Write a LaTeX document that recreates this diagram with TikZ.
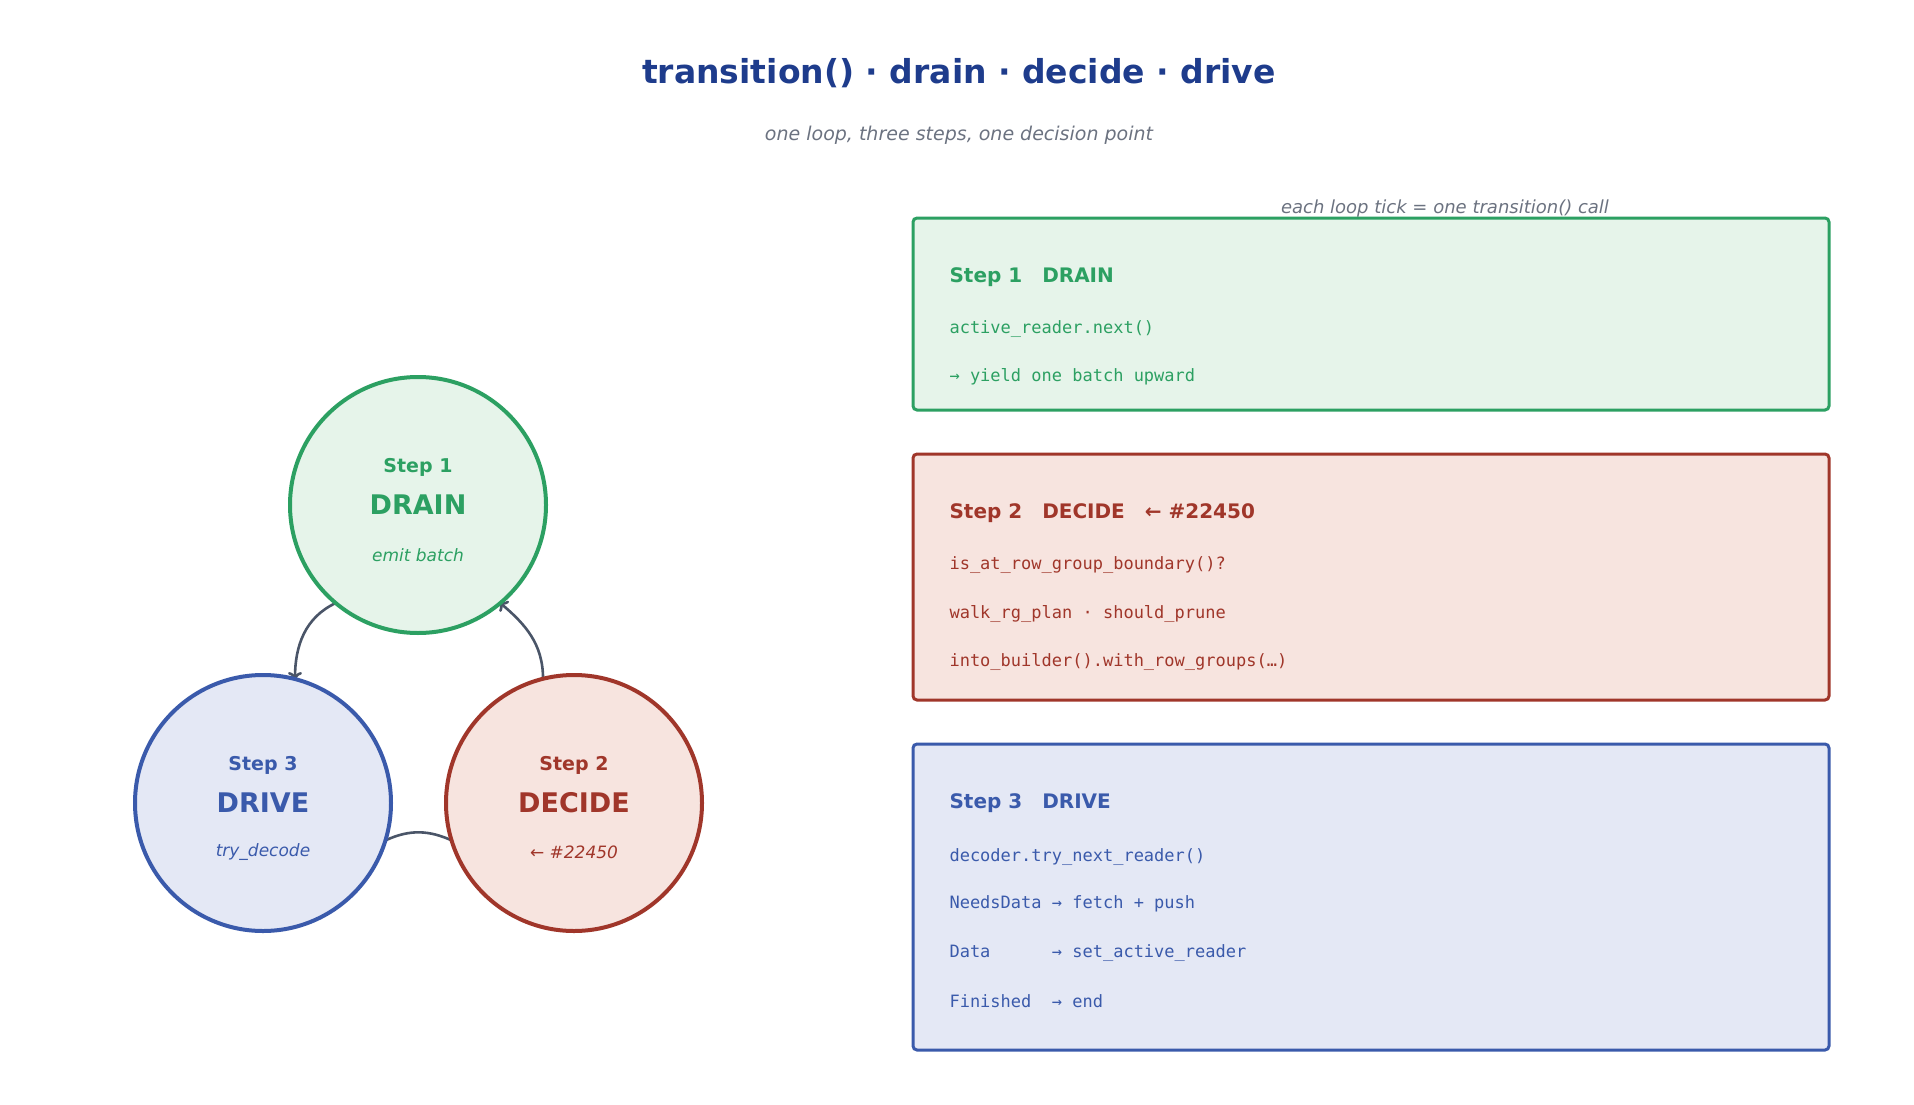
\documentclass[tikz,border=0pt]{standalone}
\usepackage{fontspec}
\setmainfont{DejaVu Sans}
\setsansfont{DejaVu Sans}
\setmonofont{DejaVu Sans Mono}
\usetikzlibrary{positioning,arrows.meta}

\definecolor{titleblue}{HTML}{1E3C8C}
\definecolor{grayt}{HTML}{6B7280}
\definecolor{arr}{HTML}{4A5568}
\definecolor{gr}{HTML}{2CA062}
\definecolor{grf}{HTML}{E6F4EA}
\definecolor{rd}{HTML}{A0362A}
\definecolor{rdf}{HTML}{F7E4DF}
\definecolor{bl}{HTML}{3A5AAB}
\definecolor{blf}{HTML}{E4E8F5}

\tikzset{
  stage/.style={circle,line width=4pt,minimum size=256pt,inner sep=0pt},
  card/.style={rounded corners=4pt,line width=3pt},
  loop/.style={arr,line width=2.6pt,-{To[length=8pt,width=14pt]}},
  head/.style={anchor=west,font=\fontsize{20}{24}\selectfont\bfseries},
  code/.style={anchor=west,font=\fontsize{17}{20}\selectfont\ttfamily}
}

\begin{document}
\begin{tikzpicture}[x=1pt,y=1pt]
\useasboundingbox (0,0) rectangle (1914,-1105);

\node[titleblue,font=\fontsize{33}{40}\selectfont\bfseries] (title) at (959,-73) {transition() · drain · decide · drive};
\node[grayt,font=\fontsize{19}{23}\selectfont\itshape] (sub) at (959,-135) {one loop, three steps, one decision point};

% loop circles
\draw[loop] (418,-505)+(230:128) coordinate (g1) to[out=205,in=90] (295,-680) coordinate (b1);
\draw[loop] (574,-803)+(104:128) coordinate (r1) to[out=90,in=-40] (499,-602) coordinate (g2);
\draw[arr,line width=2.6pt] (263,-803)+(-17:128) coordinate (b2) to[out=25,in=155] (453,-841) coordinate (r2);

\node[stage,draw=gr,fill=grf] (drain) at (418,-505) {};
\node[stage,draw=rd,fill=rdf] (decide) at (574,-803) {};
\node[stage,draw=bl,fill=blf] (drive) at (263,-803) {};

\node[gr,font=\fontsize{19}{23}\selectfont\bfseries] at (418,-467) {Step 1};
\node[gr,font=\fontsize{27}{32}\selectfont\bfseries] at (418,-505) {DRAIN};
\node[gr,font=\fontsize{17}{20}\selectfont\itshape] at (418,-555) {emit batch};
\node[rd,font=\fontsize{19}{23}\selectfont\bfseries] at (574,-765) {Step 2};
\node[rd,font=\fontsize{27}{32}\selectfont\bfseries] at (574,-803) {DECIDE};
\node[rd,font=\fontsize{17}{20}\selectfont\itshape] at (574,-852) {← \#22450};
\node[bl,font=\fontsize{19}{23}\selectfont\bfseries] at (263,-765) {Step 3};
\node[bl,font=\fontsize{27}{32}\selectfont\bfseries] at (263,-803) {DRIVE};
\node[bl,font=\fontsize{17}{20}\selectfont\itshape] at (263,-852) {try\_decode};

% cards
\node[grayt,font=\fontsize{18}{22}\selectfont\itshape] (tick) at (1445,-209) {each loop tick = one transition() call};
\draw[card,draw=gr,fill=grf] (913,-218) rectangle (1829,-410);
\node[head,gr] at (946,-277) {Step 1\quad DRAIN};
\node[code,gr] at (946,-329) {active\_reader.next()};
\node[code,gr] at (946,-377) {→ yield one batch upward};

\draw[card,draw=rd,fill=rdf] (913,-454) rectangle (1829,-700);
\node[head,rd] at (946,-513) {Step 2\quad DECIDE\quad ← \#22450};
\node[code,rd] at (946,-565) {is\_at\_row\_group\_boundary()?};
\node[code,rd] at (946,-614) {walk\_rg\_plan · should\_prune};
\node[code,rd] at (946,-662) {into\_builder().with\_row\_groups(…)};

\draw[card,draw=bl,fill=blf] (913,-744) rectangle (1829,-1050);
\node[head,bl] at (946,-803) {Step 3\quad DRIVE};
\node[code,bl] at (946,-857) {decoder.try\_next\_reader()};
\node[code,bl] at (946,-904) {NeedsData → fetch + push};
\node[code,bl] at (946,-953) {Data\ \ \ \ \ \ → set\_active\_reader};
\node[code,bl] at (946,-1001) {Finished\ \ → end};
\end{tikzpicture}
\end{document}
